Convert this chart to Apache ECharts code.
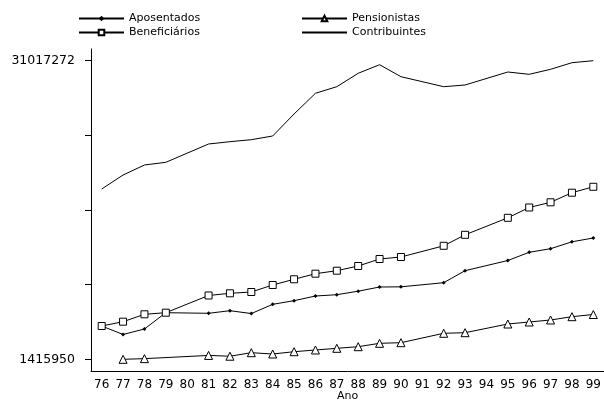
<!DOCTYPE html>
<html>
<head>
<meta charset="utf-8">
<script src="https://cdn.jsdelivr.net/npm/echarts@6/dist/echarts.min.js"></script>
<style>
html,body{margin:0;padding:0;background:#fff;}
#c{width:604px;height:402px;}
</style>
</head>
<body>
<div id="c"></div>
<script>
var years = ['76','77','78','79','80','81','82','83','84','85','86','87','88','89','90','91','92','93','94','95','96','97','98','99'];
var aposentados = [4717000,3875000,4420000,6036000,null,5976000,6234000,5950000,6868000,7225000,7691000,7820000,8167000,8583000,8600000,null,9010000,10199000,null,11210000,12023000,12380000,13064000,13441000];
var beneficiarios = [4717000,5143000,5877000,6036000,null,7741000,7959000,8088000,8782000,9347000,9902000,10199000,10665000,11359000,11557000,null,12668000,13758000,null,15443000,16465000,16980000,17932000,18517000];
var pensionistas = [null,1415950,1480000,null,null,1800000,1720000,2070000,1941000,2169000,2338000,2506000,2665000,3002000,3062000,null,3994000,4053000,null,4915000,5114000,5312000,5639000,5857000];
var contribuintes = [18298000,19686000,20678000,20945000,null,22760000,22988000,23186000,23553000,25734000,27786000,28440000,29768000,30621000,29431000,null,28440000,28609000,null,29897000,29669000,30165000,30819000,31017272];
var yTicks = [1415950, 8816280.5, 16216611, 23616941.5, 31017272];
var yLabels = [1415950, 31017272];

var chart = echarts.init(document.getElementById('c'));
var font = 'DejaVu Sans';
function leg(item, left, top) {
  return {
    data: [item], left: left, top: top, padding: 0,
    itemWidth: 45, itemHeight: 7, selectedMode: false,
    textStyle: {fontFamily: font, fontSize: 11, color: '#000'}
  };
}
chart.setOption({
  animation: false,
  backgroundColor: '#fff',
  legend: [
    leg('Aposentados', 78, 13),
    leg('Beneficiários', 78, 27),
    leg('Pensionistas', 301, 13),
    leg({name: 'Contribuintes', itemStyle: {opacity: 0}}, 301, 27)
  ],
  grid: {left: 91, right: 0, top: 49, bottom: 31, containLabel: false, outerBoundsMode: 'none'},
  xAxis: {
    type: 'category', data: years, boundaryGap: true,
    name: 'Ano', nameLocation: 'middle', nameGap: 20, nameMoveOverlap: false,
    nameTextStyle: {fontFamily: font, fontSize: 11, color: '#000'},
    axisLine: {onZero: false, lineStyle: {color: '#000', width: 1}},
    axisTick: {alignWithLabel: true, length: 7, lineStyle: {color: '#000'}},
    axisLabel: {fontFamily: font, fontSize: 12, color: '#000', margin: 8, interval: 0}
  },
  yAxis: {
    type: 'value', min: 255950, max: 32177272,
    splitLine: {show: false},
    axisLine: {show: true, lineStyle: {color: '#000', width: 1}},
    axisTick: {show: true, length: 6, customValues: yTicks, lineStyle: {color: '#000'}},
    axisLabel: {fontFamily: font, fontSize: 12.5, color: '#000', margin: 16, customValues: yLabels,
      formatter: function (v) { return String(Math.round(v)); }}
  },
  series: [
    {name: 'Aposentados', type: 'line', data: aposentados, connectNulls: true,
      symbol: 'diamond', symbolSize: 4, showAllSymbol: true,
      lineStyle: {color: '#000', width: 1}, itemStyle: {color: '#000'}},
    {name: 'Beneficiários', type: 'line', data: beneficiarios, connectNulls: true,
      symbol: 'rect', symbolSize: 7, showAllSymbol: true,
      lineStyle: {color: '#000', width: 1}, itemStyle: {color: '#fff', borderColor: '#000', borderWidth: 1}},
    {name: 'Pensionistas', type: 'line', data: pensionistas, connectNulls: true,
      symbol: 'triangle', symbolSize: 8, showAllSymbol: true,
      lineStyle: {color: '#000', width: 1}, itemStyle: {color: '#fff', borderColor: '#000', borderWidth: 1}},
    {name: 'Contribuintes', type: 'line', data: contribuintes, connectNulls: true,
      symbol: 'none',
      lineStyle: {color: '#000', width: 1}, itemStyle: {color: '#000'}}
  ]
});
</script>
</body>
</html>
